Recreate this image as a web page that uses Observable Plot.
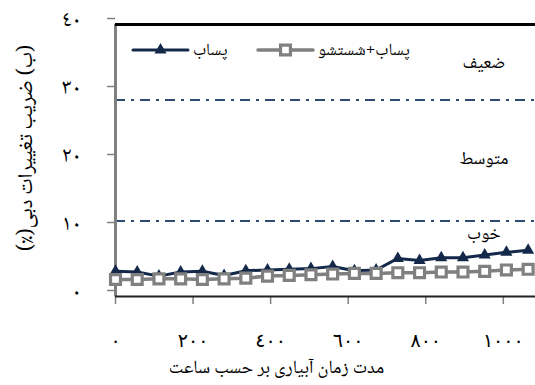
<!DOCTYPE html>
<html>
<head>
<meta charset="utf-8">
<script src="https://cdn.jsdelivr.net/npm/d3@7"></script>
<script src="https://cdn.jsdelivr.net/npm/@observablehq/plot@0.6"></script>
<style>
  html, body { margin: 0; padding: 0; background: #fff; }
  #chart { width: 535px; height: 385px; overflow: hidden; }
</style>
</head>
<body>
<div id="chart"></div>
<script>
// ---- data ----
const hours = [0, 56, 112, 168, 224, 280, 336, 392, 448, 504, 560, 616, 672, 728, 784, 840, 896, 952, 1008, 1064];
const effluent = [3.7, 3.6, 3.0, 3.6, 3.7, 3.1, 3.8, 3.9, 4.0, 4.1, 4.4, 3.8, 3.9, 5.6, 5.3, 5.7, 5.7, 6.1, 6.5, 6.8];
const effluentFlush = [2.5, 2.5, 2.6, 2.6, 2.5, 2.6, 2.7, 3.0, 3.1, 3.2, 3.3, 3.4, 3.4, 3.5, 3.5, 3.6, 3.6, 3.7, 3.9, 4.0];
const seriesNames = ["پساب", "پساب+شستشو"];
const thresholds = [11.1, 28.9];
const zoneLabels = ["ضعیف", "متوسط", "خوب"];
const zoneY = [34.4, 20.3, 9.3];
const zoneX = 950;
const xTicks = [0, 200, 400, 600, 800, 1000];
const xTickLabels = ["٠", "٢٠٠", "٤٠٠", "٦٠٠", "٨٠٠", "١٠٠٠"];
const yTicks = [0, 10, 20, 30, 40];
const yTickLabels = ["٠", "١٠", "٢٠", "٣٠", "٤٠"];
const xTitle = "مدت زمان آبیاری بر حسب ساعت";
const yTitle = "(ب) ضریب تغییرات دبی(٪)";

// ---- tables ----
const dataA = hours.map((h, i) => ({x: h, y: effluent[i]}));
const dataB = hours.map((h, i) => ({x: h, y: effluentFlush[i]}));
const zones = zoneLabels.map((t, i) => ({x: zoneX, y: zoneY[i], t}));
const xLab = new Map(xTicks.map((d, i) => [d, xTickLabels[i]]));
const yLab = new Map(yTicks.map((d, i) => [d, yTickLabels[i]]));

const NAVY = "#14294a";
const GRAY = "#808080";
const DASH = "#2d4a70";
const FONT = "'Noto Naskh Arabic', 'Noto Sans Arabic', 'DejaVu Sans', sans-serif";
const DIGITS = "'DejaVu Sans', sans-serif";

const chart = Plot.plot({
  width: 535,
  height: 385,
  marginLeft: 115,
  marginRight: 0,
  marginTop: 24,
  marginBottom: 89,
  style: {fontFamily: FONT, fontSize: "16px", background: "#fff", color: "black"},
  x: {domain: [0, 1083]},
  y: {domain: [0, 40]},
  marks: [
    Plot.ruleY(thresholds, {stroke: DASH, strokeWidth: 2, strokeDasharray: "10,6,3,6"}),
    Plot.axisY({ticks: yTicks, tickFormat: d => yLab.get(d), tickSize: 8, tickPadding: 26, dy: -6,
      stroke: GRAY, strokeWidth: 1.5, strokeOpacity: 1, fill: "black", fontSize: 22, label: null, textAnchor: "end"}),
    Plot.axisX({ticks: xTicks, tickFormat: d => xLab.get(d), tickSize: 8, tickPadding: 29,
      stroke: GRAY, strokeWidth: 1.5, strokeOpacity: 1, fill: "black", fontSize: 19, label: null, fontFamily: DIGITS}),
    Plot.ruleX([0], {stroke: GRAY, strokeWidth: 3}),
    Plot.ruleY([0], {stroke: "#222", strokeWidth: 2}),
    Plot.ruleY([40], {stroke: "black", strokeWidth: 3}),
    Plot.line(dataA, {x: "x", y: "y", stroke: NAVY, strokeWidth: 3}),
    Plot.dot(dataA, {x: "x", y: "y", symbol: "triangle", fill: NAVY, r: 4.5}),
    Plot.line(dataB, {x: "x", y: "y", stroke: GRAY, strokeWidth: 3.5}),
    Plot.dot(dataB, {x: "x", y: "y", symbol: "square", fill: "white", stroke: GRAY, strokeWidth: 3.2, r: 5.6}),
    Plot.text(zones, {x: "x", y: "y", text: "t", fontSize: 18, fill: "black", textAnchor: "middle"}),
    Plot.text([xTitle], {text: d => d, frameAnchor: "bottom", dx: -49, dy: 71, fontSize: 18.5, fill: "black", lineAnchor: "middle"})
  ]
});

const svg = d3.select(chart);

// rotated y title (RTL)
svg.append("text")
  .attr("transform", "translate(25,148) rotate(-90)")
  .attr("text-anchor", "middle").attr("dy", "0.32em")
  .attr("direction", "rtl").attr("unicode-bidi", "embed")
  .attr("font-family", FONT).attr("font-size", 21).attr("fill", "black")
  .text(yTitle);

// ---- legend (inside plot, top-left) ----
const lg = svg.append("g").attr("font-family", FONT).attr("font-size", 17);
const legendItems = [
  {name: seriesNames[0], x0: 133, x1: 188, y: 50, tx: 193, kind: "tri"},
  {name: seriesNames[1], x0: 258, x1: 313, y: 50, tx: 318, kind: "sq"}
];
for (const it of legendItems) {
  const c = it.kind === "tri" ? NAVY : GRAY;
  lg.append("line").attr("x1", it.x0).attr("x2", it.x1).attr("y1", it.y).attr("y2", it.y)
    .attr("stroke", c).attr("stroke-width", it.kind === "tri" ? 3 : 3.5).attr("stroke-linecap", "round");
  const mx = (it.x0 + it.x1) / 2;
  if (it.kind === "tri") {
    lg.append("path").attr("d", d3.symbol(d3.symbolTriangle, Math.PI * 4.5 * 4.5)())
      .attr("transform", `translate(${mx},${it.y})`).attr("fill", NAVY);
  } else {
    lg.append("path").attr("d", d3.symbol(d3.symbolSquare, Math.PI * 5.6 * 5.6)())
      .attr("transform", `translate(${mx},${it.y})`).attr("fill", "white").attr("stroke", GRAY).attr("stroke-width", 3.2);
  }
  lg.append("text").attr("x", it.tx).attr("y", it.y).attr("dy", "0.32em").attr("text-anchor", "start")
    .attr("direction", "ltr").text(it.name);
}

document.getElementById("chart").appendChild(chart);
</script>
</body>
</html>
